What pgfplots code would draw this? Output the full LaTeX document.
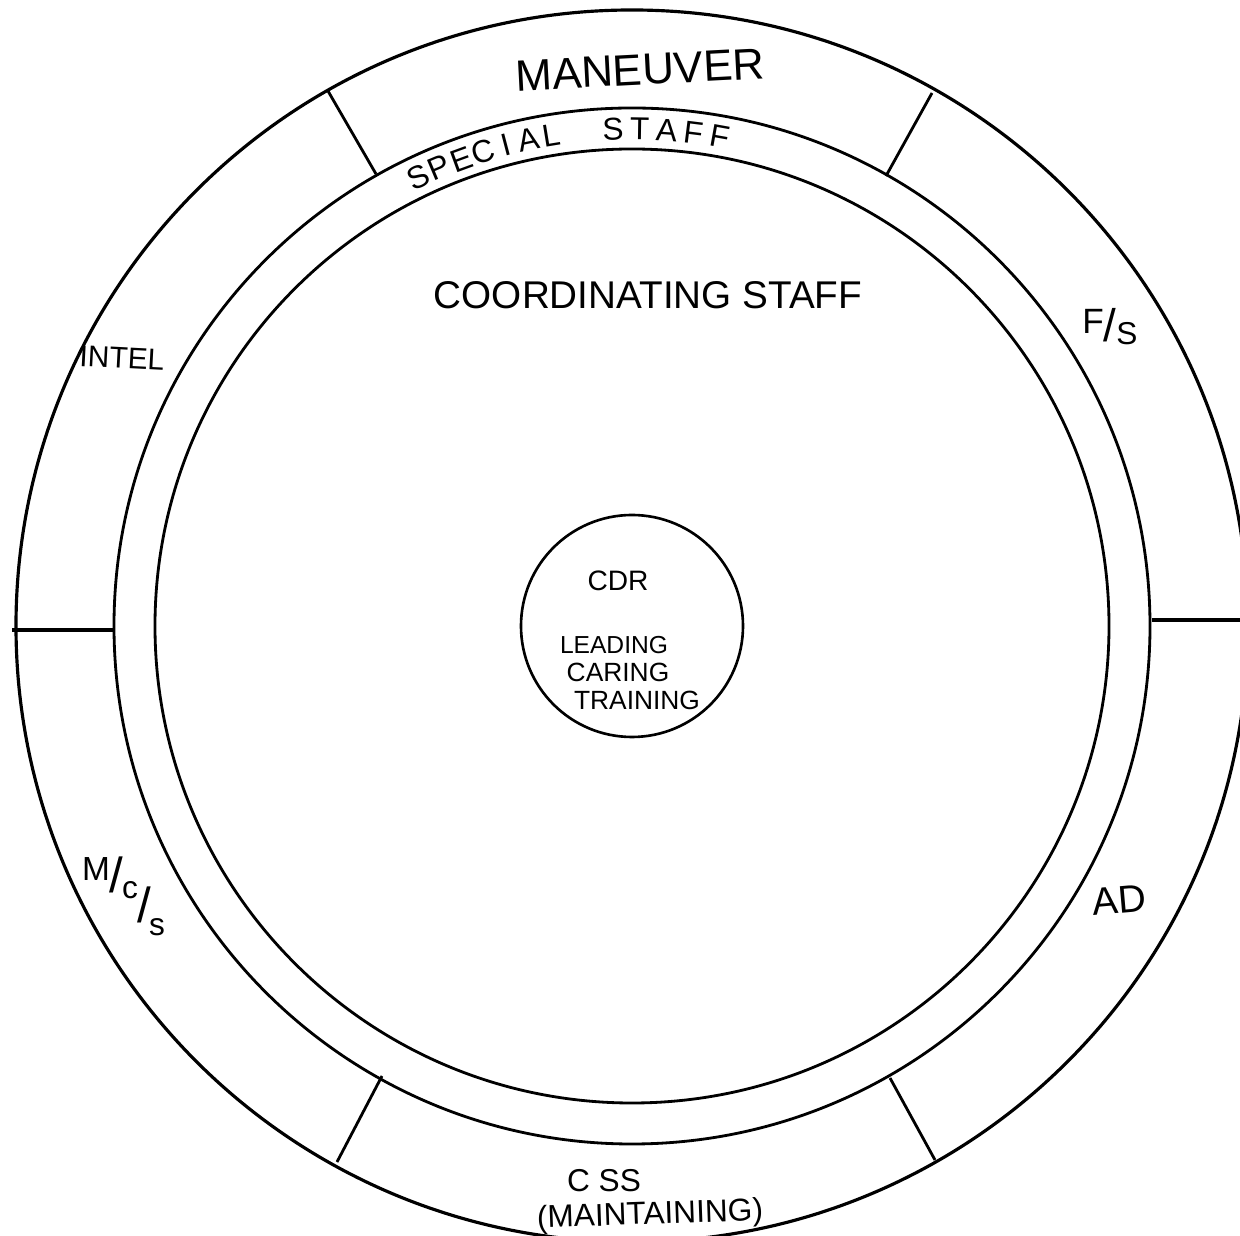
\documentclass[border=0pt]{standalone}
\usepackage{fontspec}
\setmainfont{Liberation Sans}
\usepackage{pgfplots}
\pgfplotsset{compat=1.18}
\begin{document}
\begin{tikzpicture}
\begin{axis}[x=0.2mm, y=0.2mm, xmin=0, xmax=1240, ymin=0, ymax=1236,
  hide axis, clip=true]
% concentric rings (centre at 632,610 in axis units = pixels)
\draw[line width=1.8pt] (axis cs:632,610) circle[radius=123.2mm];
\draw[line width=1.6pt] (axis cs:632,610) circle[radius=103.6mm];
\draw[line width=1.6pt] (axis cs:632,610) circle[radius=95.4mm];
\draw[line width=1.5pt] (axis cs:632,610) circle[radius=22.2mm];
% dividers of the outer ring
\addplot[black, line width=2pt, no markers] coordinates {(12,606) (113,606)};
\addplot[black, line width=2pt, no markers] coordinates {(1152,616) (1240,616)};
\addplot[black, line width=1.6pt, no markers] coordinates {(376,1062) (328,1145)};
\addplot[black, line width=1.6pt, no markers] coordinates {(886,1060) (932,1143)};
\addplot[black, line width=1.6pt, no markers] coordinates {(382,160) (337,74)};
\addplot[black, line width=1.6pt, no markers] coordinates {(890,158) (935,76)};
% labels
\node[font=\fontsize{25}{30}\selectfont, rotate=3] at (axis cs:640,1166) {MANEUVER};
% SPECIAL STAFF, letter by letter along the ring
\begin{scope}[every node/.style={font=\fontsize{18}{22}\selectfont, inner sep=0pt}]
\node[rotate=25.5] at (axis cs:418.0,1058.6) {S};
\node[rotate=22.8] at (axis cs:439.4,1068.2) {P};
\node[rotate=20.1] at (axis cs:461.2,1076.7) {E};
\node[rotate=17.4] at (axis cs:483.4,1084.2) {C};
\node[rotate=14.7] at (axis cs:505.9,1090.8) {I};
\node[rotate=12.0] at (axis cs:528.7,1096.1) {A};
\node[rotate=9.3]  at (axis cs:551.7,1100.5) {L};
\node[rotate=2.2]  at (axis cs:612.9,1106.7) {S};
\node[rotate=-0.9] at (axis cs:639.8,1107.0) {T};
\node[rotate=-4.0] at (axis cs:666.7,1105.8) {A};
\node[rotate=-7.1] at (axis cs:693.4,1103.2) {F};
\node[rotate=-10.2] at (axis cs:720.0,1099.2) {F};
\end{scope}
\node[font=\fontsize{22}{26}\selectfont] at (axis cs:648,941) {COORDINATING STAFF};
\node[font=\fontsize{20}{24}\selectfont] at (axis cs:1093,915) {F};
\node[font=\fontsize{26}{30}\selectfont] at (axis cs:1110,911) {/};
\node[font=\fontsize{18}{22}\selectfont] at (axis cs:1127,902) {S};
\node[font=\fontsize{17}{20}\selectfont, rotate=-3] at (axis cs:122,878) {INTEL};
\node[font=\fontsize{19}{22}\selectfont, inner sep=0pt] at (axis cs:96,367) {M};
\node[font=\fontsize{28}{32}\selectfont, inner sep=0pt] at (axis cs:116,361) {/};
\node[font=\fontsize{18}{22}\selectfont, inner sep=0pt] at (axis cs:130,346) {c};
\node[font=\fontsize{28}{32}\selectfont, inner sep=0pt] at (axis cs:144,331) {/};
\node[font=\fontsize{18}{22}\selectfont, inner sep=0pt] at (axis cs:157,309) {s};
\node[font=\fontsize{22}{26}\selectfont, rotate=5] at (axis cs:1119,336) {AD};
\node[font=\fontsize{18}{22}\selectfont] at (axis cs:604,55) {C SS};
\node[font=\fontsize{18}{22}\selectfont, rotate=2] at (axis cs:650,20) {(MAINTAINING)};
\node[font=\fontsize{16}{20}\selectfont] at (axis cs:618,655) {CDR};
\node[font=\fontsize{14}{17}\selectfont] at (axis cs:614,591) {LEADING};
\node[font=\fontsize{15}{18}\selectfont] at (axis cs:618,564) {CARING};
\node[font=\fontsize{15}{18}\selectfont] at (axis cs:637,536) {TRAINING};
\end{axis}
\pgfresetboundingbox
\useasboundingbox (current axis.south west) rectangle (current axis.north east);
\end{tikzpicture}
\end{document}
